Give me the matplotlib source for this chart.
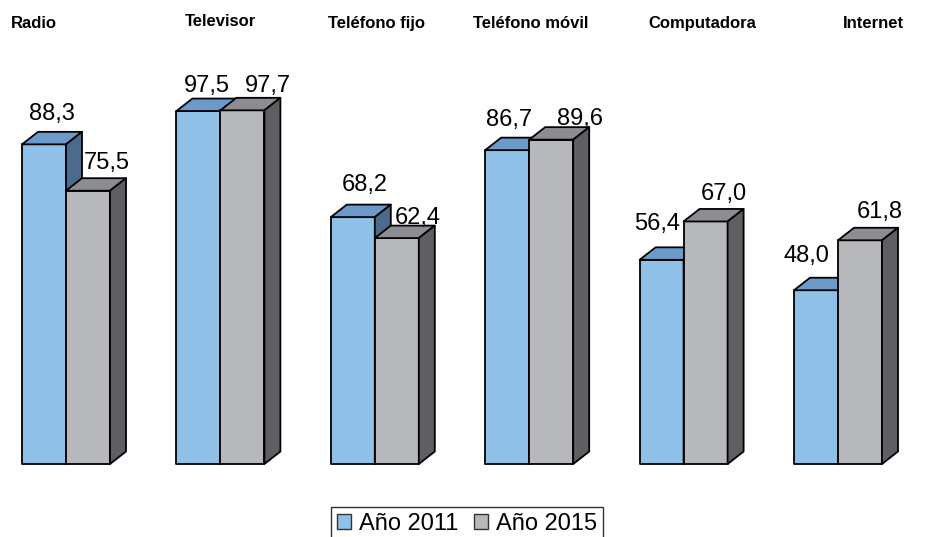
import matplotlib.pyplot as plt
from matplotlib.patches import Polygon, Patch

categories = ['Radio', 'Televisor', 'Teléfono fijo', 'Teléfono móvil', 'Computadora', 'Internet']
values_2011 = [88.3, 97.5, 68.2, 86.7, 56.4, 48.0]
values_2015 = [75.5, 97.7, 62.4, 89.6, 67.0, 61.8]
series_names = ['Año 2011', 'Año 2015']

# layout: title centres / baselines in figure pixels
title_cx = [33.5, 220.5, 376.5, 531, 702.5, 873.5]
title_base = [28, 26, 28, 28, 28, 28]

# layout: value label offsets (px) from bar front centre / front top
label_dx = [[8, 8.6, 12.2, 1.8, -4.6, -10],
            [19, 25.6, 21.2, 28.8, 18, 20]]
label_dy = [[32.4, 27.5, 34.6, 33, 38.8, 37],
            [29.7, 26.8, 23.1, 23.6, 29.5, 30.3]]

plt.rcParams['font.family'] = ['Liberation Sans', 'DejaVu Sans']

W, H = 928, 537
fig = plt.figure(figsize=(W / 100, H / 100), dpi=100)

# y=0 at pixel 464, 3.62 px per unit; groups every 154.4 px
px_unit_y = 3.62
base_px = 464
ax = fig.add_axes([0, (H - base_px) / H, 1, 100 * px_unit_y / H])
group_px = 154.4
x_left = -66 / group_px
ax.set_xlim(x_left, x_left + W / group_px)
ax.set_ylim(0, 100)
ax.axis('off')

bar_w = 44 / group_px
dx = 16 / group_px
dy = 12.5 / px_unit_y

colors = [
    {'front': '#8FC0E8', 'top': '#6C9BCB', 'side': '#4C6A8C'},
    {'front': '#B7B8BC', 'top': '#8B8D91', 'side': '#5E5F63'},
]


def draw_bar(x0, h, c):
    x1 = x0 + bar_w
    kw = dict(edgecolor='black', linewidth=1.3, joinstyle='round', clip_on=False)
    ax.add_patch(Polygon([(x0, 0), (x1, 0), (x1, h), (x0, h)], facecolor=c['front'], **kw))
    ax.add_patch(Polygon([(x0, h), (x1, h), (x1 + dx, h + dy), (x0 + dx, h + dy)],
                         facecolor=c['top'], **kw))
    ax.add_patch(Polygon([(x1, 0), (x1 + dx, dy), (x1 + dx, h + dy), (x1, h)],
                         facecolor=c['side'], **kw))


def fmt(v):
    return f'{v:.1f}'.replace('.', ',')


for i in range(len(categories)):
    for j, vals in enumerate([values_2011, values_2015]):
        x0 = i - bar_w + j * bar_w
        h = vals[i]
        draw_bar(x0, h, colors[j])
        tx = x0 + bar_w / 2 + label_dx[j][i] / group_px
        ty = h + (label_dy[j][i] - 8.5) / px_unit_y
        ax.text(tx, ty, fmt(h), ha='center', va='baseline', fontsize=17, clip_on=False)

for name, cx, by in zip(categories, title_cx, title_base):
    fig.text(cx / W, 1 - by / H, name, ha='center', va='baseline', fontsize=12,
             fontweight='bold')

handles = [Patch(facecolor=colors[k]['front'], edgecolor='#333333', linewidth=1.0)
           for k in range(2)]
leg = fig.legend(handles, series_names, loc='upper center', bbox_to_anchor=(467 / W, 1 - 507 / H),
                 ncol=2, fontsize=17, frameon=True, fancybox=False, edgecolor='black',
                 handlelength=0.6, handleheight=0.6, handletextpad=0.34, columnspacing=0.64,
                 borderpad=0.25, borderaxespad=0)
leg.get_frame().set_linewidth(1.0)

fig.savefig('out.png', dpi=100)
